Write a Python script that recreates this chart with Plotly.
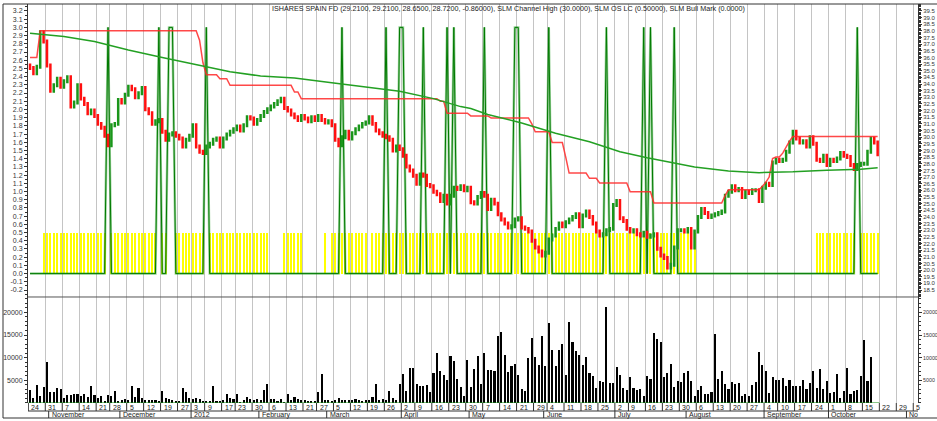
import plotly.graph_objects as go
import pandas as pd

# ---------------- data ----------------
close = [
    35.2, 34.8, 35.3, 37.9, 37.2, 35.4, 33.5, 33.9, 34.4, 33.8,
    34.2, 34.5, 32.3, 32.6, 33.9, 32.9, 32.5, 31.8, 32.0, 31.6,
    31.0, 30.7, 30.1, 29.4, 30.9, 31.0, 32.8, 32.6, 33.2, 33.8,
    33.6, 33.0, 33.3, 33.7, 32.1, 31.8, 31.0, 31.2, 31.3, 30.4,
    29.8, 30.2, 30.3, 30.1, 29.9, 29.3, 29.8, 30.1, 30.9, 29.3,
    28.9, 28.8, 29.3, 29.5, 29.8, 29.9, 29.3, 29.9, 30.2, 30.4,
    30.6, 30.8, 30.5, 30.9, 31.5, 31.4, 31.0, 31.3, 31.6, 31.9,
    32.1, 32.3, 32.5, 32.7, 32.9, 32.2, 32.0, 31.7, 31.5, 31.3,
    31.6, 31.4, 31.2, 31.5, 31.3, 31.6, 31.3, 31.1, 31.2, 30.9,
    29.8, 29.4, 30.0, 30.4, 29.9, 30.3, 30.6, 30.8, 31.0, 31.1,
    31.5, 31.0, 30.5, 30.3, 30.1, 30.0, 29.8, 29.0, 29.3, 29.1,
    28.6, 27.8, 27.5, 27.1, 26.5, 27.2, 27.1, 26.4, 26.3, 25.9,
    25.7, 25.2, 25.6, 25.0, 25.6, 26.2, 26.1, 26.3, 26.0, 26.2,
    25.1, 25.0, 25.5, 25.8, 25.6, 24.6, 25.3, 25.0, 24.2, 23.8,
    23.5, 23.2, 23.3, 23.8, 23.9, 23.2, 23.1, 22.9, 22.2, 21.7,
    21.4, 21.1, 21.3, 22.3, 22.6, 23.1, 23.5, 23.3, 23.6, 23.8,
    24.0, 24.2, 23.3, 24.1, 24.4, 24.0, 23.5, 22.9, 22.6, 22.7,
    23.0, 23.1, 24.9, 25.2, 23.9, 23.7, 23.1, 22.9, 23.0, 22.7,
    22.6, 22.8, 22.5, 22.6, 22.7, 21.6, 21.1, 20.9, 20.2, 20.4,
    21.7, 23.0, 23.0, 22.9, 23.1, 21.7, 22.9, 24.0, 24.6, 24.3,
    24.0, 24.1, 24.2, 24.3, 24.4, 25.6, 25.9, 26.3, 26.0, 26.1,
    25.5, 25.9, 25.8, 26.0, 26.0, 25.2, 26.2, 26.5, 26.4, 28.1,
    28.3, 28.2, 28.3, 28.9, 29.6, 30.4, 29.9, 29.6, 29.7, 29.3,
    30.0, 29.5, 28.3, 28.2, 28.6, 27.9, 28.3, 28.2, 28.4, 28.8,
    28.6, 28.5, 27.9, 27.6, 27.9, 28.0, 28.0, 28.9, 29.9, 29.6, 28.72,
]

chan_high = ([36.0] * 3 + [38.0] * 47 + [37.3, 35.6] + [34.7] * 4 + [34.4] * 3
             + [33.9] * 19 + [33.4] * 2 + [32.9] * 41 + [32.7] * 2 + [31.8] * 7
             + [31.6] * 6 + [31.45] * 12 + [31.0] + [30.4] * 5 + [29.6] * 4 + [28.5]
             + [27.3] * 6 + [26.9] * 3 + [26.55] * 9 + [25.9] * 7 + [25.05] * 21
             + [25.6] + [26.05] * 10
             + [26.3, 26.6, 27.0, 28.4, 28.5, 28.5, 28.8, 29.3, 29.7] + [30.05] * 26)

ma_day = [0, 10, 19, 29, 39, 49, 59, 68, 78, 89, 99, 109, 119, 127, 130, 135, 145,
          155, 165, 174, 182, 190, 196, 206, 215, 225, 235, 245, 250]
ma_val = [37.82, 37.57, 37.2, 36.56, 36.0, 35.44, 34.93, 34.6, 34.45, 34.1, 33.8, 33.45,
          32.9, 32.3, 32.15, 31.7, 31.07, 30.3, 29.66, 28.9, 28.45, 28.07, 27.76, 27.45,
          27.33, 27.39, 27.52, 27.58, 27.7]

bull_days = [23, 38, 41, 42, 52, 92, 105, 109, 110, 116, 123, 125, 134, 143, 144,
             153, 170, 181, 183, 190, 244]
bull_high = 3.0

oslc_runs = [(4, 22), (24, 37), (39, 40), (43, 51), (53, 70), (75, 80), (87, 87),
             (89, 99), (101, 196), (232, 243), (245, 250)]
oslc_level = 0.5

volume = [
    2970, 1140, 4070, 1650, 3480, 9050, 2460, 2380, 3340, 3190,
    1140, 1800, 1800, 1940, 1940, 1500, 2020, 1280, 3770, 1870,
    1060, 1650, 550, 1800, 1650, 2680, 550, 620, 990, 770,
    3700, 1360, 3410, 1210, 770, 700, 770, 700, 480, 2600,
    1140, 920, 770, 480, 400, 3260, 2460, 1140, 920, 1060,
    990, 480, 400, 550, 3770, 480, 400, 770, 2090, 1060,
    840, 1940, 330, 770, 1360, 920, 700, 840, 600, 2820,
    4210, 990, 990, 480, 920, 330, 2090, 620, 1360, 920,
    700, 700, 400, 480, 500, 2530, 6410, 770, 620, 480,
    770, 1140, 770, 620, 770, 770, 840, 700, 400, 700,
    620, 1280, 4210, 770, 990, 770, 2750, 1140, 770, 4210,
    6340, 2750, 7730, 7730, 4290, 3700, 3700, 3920, 2380, 6630,
    11030, 7150, 6270, 5170, 10450, 9200, 5310, 3480, 1500,
    9420, 3480, 7510, 10300, 4210, 11030, 7220, 7220, 7000, 14840,
    15570, 10520, 6780, 8250, 8690, 6270, 3190, 2750, 9930, 14260,
    10150, 8320, 14700, 8100, 17630, 11760, 8250, 11760, 13080, 6270,
    17990, 13450, 11400, 10670, 8470, 10150, 6630, 6050, 3340, 4800,
    4650, 21290, 4430, 4430, 7950, 6190, 3340, 2970, 5680, 3410,
    2970, 3120, 1650, 5900, 5310, 15430, 14180, 13380, 5750, 6630,
    8690, 3480, 4800, 4580, 6630, 7150, 4800, 1650, 2820, 3850,
    2090, 2090, 2380, 15210, 5390, 7150, 4210, 3120, 4650, 4210,
    4430, 1500, 2020, 1650, 4070, 4650, 11180, 8320, 7150, 2240,
    5750, 5170, 5170, 5610, 3700, 5170, 3700, 3700, 3850, 5020,
    3120, 4430, 7070, 3260, 7510, 3190, 4950, 2240, 2380, 6410,
    1140, 2750, 7810, 2020, 2750, 2820, 5900, 13820, 4800, 10080,
]

vol_ticks = [5000, 10000, 15000, 20000]
left_ticks = [round(-0.2 + 0.1 * k, 1) for k in range(35)]
price_ticks = [18.5 + 0.5 * k for k in range(43)]

title_text = ("ISHARES SPAIN FD (29.2100, 29.2100, 28.6500, 28.7200, -0.86000), "
              "SLM Channel High (30.0000), SLM OS LC (0.50000), SLM Bull Mark (0.0000)")

# ---------------- trading calendar ----------------
holidays = pd.to_datetime(["2011-11-24", "2011-12-26", "2012-01-02", "2012-01-16",
                           "2012-02-20", "2012-04-06", "2012-05-28", "2012-07-04",
                           "2012-09-03"])
cbd = pd.offsets.CustomBusinessDay(holidays=holidays)
trade = pd.date_range("2011-10-24", "2012-10-19", freq=cbd)
future = pd.bdate_range("2012-10-22", "2012-11-06")
dates = trade.append(future)
n = len(close)
idx = list(range(n))

week_starts = [0] + [i for i in range(1, len(dates)) if dates[i].weekday() < dates[i - 1].weekday()]
month_starts = [i for i in range(1, len(dates)) if dates[i].month != dates[i - 1].month]
month_names = {1: "2012", 2: "February", 3: "March", 4: "April", 5: "May", 6: "June",
               7: "July", 8: "August", 9: "September", 10: "October", 11: "November",
               12: "December"}

# OHLC built from closes
opens = [close[0] + 0.2] + close[:-1]
highs = [max(o, c) + 0.15 for o, c in zip(opens, close)]
lows = [min(o, c) - 0.15 for o, c in zip(opens, close)]

bull = [bull_high if i in bull_days else 0.0 for i in idx]
oslc_x = [i for a, b in oslc_runs for i in range(a, b + 1)]
oslc_y = [oslc_level] * len(oslc_x)

# ---------------- figure ----------------
X0, X1 = -0.6, 261.9
VOL_TOP = 0.2657
GREEN = "#1a961a"
RED = "#ff1010"
FONT = "Liberation Sans, Arial, sans-serif"

fig = go.Figure()

fig.add_trace(go.Bar(x=oslc_x, y=oslc_y, width=0.3, marker=dict(color="#ffff00", line_width=0),
                     xaxis="x", yaxis="y", showlegend=False))
fig.add_trace(go.Scatter(x=idx, y=bull, mode="lines", line=dict(color="rgba(40,160,40,0.45)", width=2.5),
                         xaxis="x", yaxis="y", showlegend=False))
fig.add_trace(go.Scatter(x=idx, y=bull, mode="lines", line=dict(color="#007a00", width=1),
                         xaxis="x", yaxis="y", showlegend=False))

fig.add_trace(go.Ohlc(x=idx, open=opens, high=highs, low=lows, close=close,
                      increasing=dict(line=dict(color=GREEN, width=2.5)),
                      decreasing=dict(line=dict(color=RED, width=2.5)),
                      tickwidth=0.35, xaxis="x", yaxis="y2", showlegend=False))
fig.add_trace(go.Scatter(x=idx, y=chan_high, mode="lines", line=dict(color="rgba(255,40,40,0.85)", width=1.5),
                         xaxis="x", yaxis="y2", showlegend=False))
fig.add_trace(go.Scatter(x=ma_day, y=ma_val, mode="lines", line=dict(color="#23a023", width=1.5),
                         xaxis="x", yaxis="y2", showlegend=False))

fig.add_trace(go.Bar(x=idx, y=volume, width=0.62, marker=dict(color="#000000", line_width=0),
                     xaxis="x2", yaxis="y3", showlegend=False))
fig.add_trace(go.Scatter(x=[-0.5, n - 0.5], y=[0, 0], mode="lines", line=dict(color=GREEN, width=1),
                         xaxis="x2", yaxis="y3", showlegend=False))
fig.add_trace(go.Scatter(x=[None], y=[None], xaxis="x2", yaxis="y4", showlegend=False))

grid_vals = [i - 0.5 for i in week_starts]
tickfont = dict(family=FONT, size=7, color="#333333")
rfont = dict(family=FONT, size=6, color="#333333")
vfont = dict(family=FONT, size=5.3, color="#333333")
minor_t = dict(ticks="outside", ticklen=2, tickcolor="#333")

xcommon = dict(range=[X0, X1], tickvals=grid_vals, showticklabels=False, ticks="",
               showgrid=True, gridcolor="#c4c4c4", gridwidth=1, zeroline=False,
               showline=False, rangeslider=dict(visible=False), fixedrange=True,
               automargin=False)
ycommon = dict(showline=True, linecolor="#333", showgrid=False, zeroline=False,
               tickcolor="#333", ticks="outside", automargin=False)
fig.update_layout(
    xaxis=dict(**xcommon, anchor="y"),
    xaxis2=dict(**xcommon, anchor="y3", matches="x"),
    yaxis=dict(**ycommon, domain=[VOL_TOP, 1], range=[-0.285, 3.285], tickvals=left_ticks,
               ticktext=["%.1f" % v for v in left_ticks], ticklen=3, tickfont=tickfont,
               minor=dict(dtick=0.05, **minor_t)),
    yaxis2=dict(**ycommon, overlaying="y", side="right", anchor="x", range=[17.975, 40.02],
                tickvals=price_ticks, ticktext=["%.1f" % v for v in price_ticks],
                ticklen=3, tickfont=rfont, minor=dict(dtick=0.1, **minor_t)),
    yaxis3=dict(**ycommon, domain=[0, VOL_TOP], range=[0, 23400], tickvals=vol_ticks,
                ticktext=[str(v) for v in vol_ticks], ticklen=3, tickfont=tickfont,
                minor=dict(dtick=1000, **minor_t)),
    yaxis4=dict(**ycommon, overlaying="y3", side="right", anchor="x2", range=[0, 23400],
                tickvals=vol_ticks, ticktext=[str(v) for v in vol_ticks],
                ticklen=3, tickfont=vfont, minor=dict(dtick=1000, **minor_t)),
    width=937, height=421,
    margin=dict(l=28, r=19, t=4, b=18, pad=0, autoexpand=False),
    paper_bgcolor="white", plot_bgcolor="white",
    showlegend=False, bargap=0,
)

PX_H = 399.0
def py(px_below):  # pixel offset below plot bottom -> paper y
    return -px_below / PX_H

shapes = []
ann = []
line_col = "#333333"
shapes.append(dict(type="line", xref="paper", yref="paper", x0=-25 / 890, x1=1.03, y0=1, y1=1,
                   line=dict(color=line_col, width=1)))
shapes.append(dict(type="line", xref="paper", yref="paper", x0=-25 / 890, x1=-25 / 890, y0=1, y1=py(15),
                   line=dict(color=line_col, width=1)))
shapes.append(dict(type="line", xref="paper", yref="paper", x0=0, x1=1, y0=VOL_TOP, y1=VOL_TOP,
                   line=dict(color="#555555", width=1)))
shapes.append(dict(type="line", xref="paper", yref="paper", x0=0, x1=1, y0=py(8), y1=py(8),
                   line=dict(color=line_col, width=1)))
shapes.append(dict(type="line", xref="paper", yref="paper", x0=-25 / 890, x1=1.03, y0=py(15), y1=py(15),
                   line=dict(color=line_col, width=1)))

for i in week_starts:
    g = i - 0.5
    shapes.append(dict(type="line", xref="x", yref="paper", x0=g, x1=g, y0=0, y1=py(8),
                       line=dict(color=line_col, width=1)))
    ann.append(dict(x=g, y=py(4), xref="x", yref="paper", text=str(dates[i].day), showarrow=False,
                    xanchor="left", yanchor="middle", xshift=1,
                    font=dict(family=FONT, size=7, color="#222")))
for i in month_starts:
    g = i - 0.5
    shapes.append(dict(type="line", xref="x", yref="paper", x0=g, x1=g, y0=py(8), y1=py(15),
                       line=dict(color=line_col, width=1)))
    d = dates[i]
    name = month_names[d.month]
    if d.year == 2012 and d.month == 11:
        name = "No"
    ann.append(dict(x=g, y=py(11.7), xref="x", yref="paper", text=name, showarrow=False,
                    xanchor="left", yanchor="middle", xshift=1,
                    font=dict(family=FONT, size=7, color="#222")))

ann.append(dict(x=480 / 890, y=1 - 5 / PX_H, xref="paper", yref="paper", text=title_text,
                showarrow=False, xanchor="center", yanchor="middle",
                font=dict(family=FONT, size=7.2, color="#222")))

fig.update_layout(shapes=shapes, annotations=ann)

fig.write_html("out.html", config={"displayModeBar": False},
               post_script="document.body.style.margin='0';")
